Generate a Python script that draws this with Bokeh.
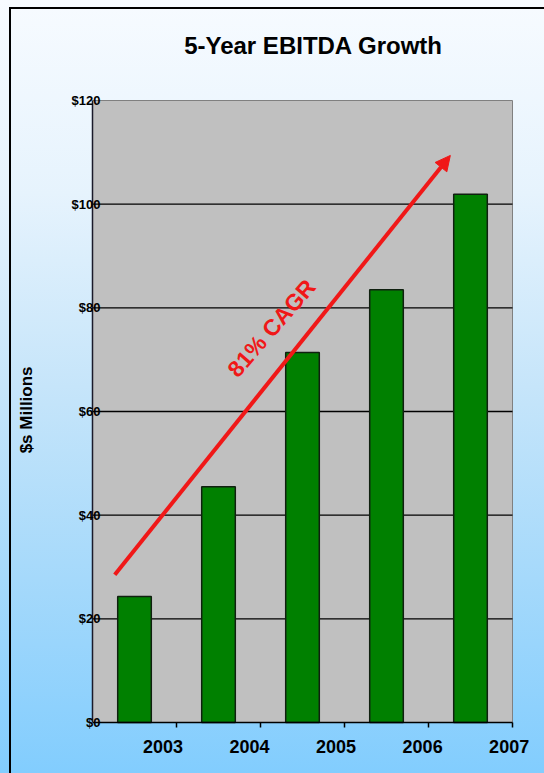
from bokeh.plotting import figure
from bokeh.models import Range1d, FixedTicker, LinearAxis, Arrow, NormalHead
from bokeh.core.properties import value
from bokeh.embed import file_html
from bokeh.resources import INLINE

# ---- data ----
years = ["2003", "2004", "2005", "2006", "2007"]
ebitda = [24.3, 45.5, 71.4, 83.5, 101.9]
y_ticks = [0, 20, 40, 60, 80, 100, 120]
y_tick_labels = ["$0", "$20", "$40", "$60", "$80", "$100", "$120"]
cagr_text = "81% CAGR"
title_text = "5-Year EBITDA Growth"
y_label = "$s Millions"

FONT = "Liberation Sans"
RED = "#F01818"

n = len(years)
xs = [i + 0.5 for i in range(n)]
y_max = y_ticks[-1]

# ---- layout (pixels) ----
W, H = 544, 773
LEFT, RIGHT, TOP, BOTTOM = 92, 4, 18, 10        # frame borders
AREA_LEFT, AREA_RIGHT = 92, 512                  # pixel columns of the plot area
AREA_TOP, AREA_BOTTOM = 100, 722                 # pixel rows of $120 and $0
ppu = (AREA_BOTTOM - AREA_TOP) / y_max           # pixels per $1M
x_ppu = (AREA_RIGHT - AREA_LEFT) / n             # pixels per category
y_hi = (AREA_BOTTOM - TOP) / ppu
y_lo = -((H - BOTTOM) - AREA_BOTTOM) / ppu
x_hi = (W - RIGHT - LEFT) / x_ppu

p = figure(width=W, height=H, output_backend="svg", toolbar_location=None,
           x_range=Range1d(0, x_hi), y_range=Range1d(y_lo, y_hi),
           min_border_left=LEFT, min_border_right=RIGHT, min_border_top=TOP,
           min_border_bottom=BOTTOM, x_axis_location=None, y_axis_location=None)

p.border_fill_alpha = 0
p.background_fill_alpha = 0
p.outline_line_color = None
p.styles = {
    "background": ("linear-gradient(#000000, #000000) 9px 7px / 2px calc(100% - 7px) no-repeat, "
                   "linear-gradient(#000000, #000000) 9px 7px / calc(100% - 9px) 2px no-repeat, "
                   "linear-gradient(to bottom, #F7FBFF 0%, #E6F3FD 25%, #C6E5FA 50%, #A5D9FB 75%, #82CDFE 100%)"),
}

# gray plot area
p.quad(left=[0], right=[n], bottom=[0], top=[y_max], fill_color="#C0C0C0",
       line_color="#808080", line_width=1, level="image")

# horizontal grid lines inside the plot area
grid_y = y_ticks[1:-1]
p.segment(x0=[0] * len(grid_y), y0=grid_y, x1=[n] * len(grid_y), y1=grid_y,
          line_color="#000000", line_width=1.3)
p.xgrid.grid_line_color = None
p.ygrid.grid_line_color = None

# title
p.text(x=[n / 2], y=[y_max], x_offset=11, y_offset=-55.5, text=[title_text],
       text_align="center", text_baseline="middle",
       text_font=value(FONT), text_font_size="24px", text_font_style="bold",
       text_color="#000000")

# y axis
yax = LinearAxis(ticker=FixedTicker(ticks=y_ticks), bounds=(0, y_max),
                 major_label_overrides={t: l for t, l in zip(y_ticks, y_tick_labels)})
yax.axis_line_color = "#1A1A2A"
yax.axis_line_width = 1.5
yax.major_tick_out = 0
yax.major_tick_in = 0
yax.minor_tick_out = 0
yax.minor_tick_in = 0
yax.major_label_standoff = -8
yax.major_label_text_font = FONT
yax.major_label_text_font_size = "13px"
yax.major_label_text_font_style = "bold"
yax.major_label_text_color = "#000000"
# trailing no-break spaces push the visible label down to the plot area's centre
yax.axis_label = y_label + "\u00a0" * 8
yax.axis_label_text_font = FONT
yax.axis_label_text_font_size = "17px"
yax.axis_label_text_font_style = "bold"
yax.axis_label_text_color = "#000000"
yax.axis_label_standoff = 33
p.add_layout(yax, "left")

# bars
p.vbar(x=xs, top=ebitda, width=0.4, bottom=0,
       fill_color="#008000", line_color="#102010", line_width=1.5)

# category axis (baseline, boundary ticks, Excel-style year labels)
p.segment(x0=[0], y0=[0], x1=[n], y1=[0], line_color="#000000", line_width=1.5)
bounds_x = list(range(1, n + 1))
p.segment(x0=bounds_x, y0=[0] * n, x1=bounds_x, y1=[-5 / ppu] * n,
          line_color="#000000", line_width=1.5)
label_pos = [0.84, 1.87, 2.9, 3.93, 4.96]
p.text(x=label_pos, y=[0] * n, y_offset=24, text=years,
       text_align="center", text_baseline="middle",
       text_font=value(FONT), text_font_size="18px", text_font_style="bold",
       text_color="#000000")

# growth arrow
arrow = Arrow(end=NormalHead(size=15, fill_color=RED, line_color=RED, line_width=1),
              x_start=xs[0] - 0.235, y_start=ebitda[0] + 4.2,
              x_end=xs[-1] - 0.24, y_end=ebitda[-1] + 7.5,
              line_color=RED, line_width=4)
p.add_layout(arrow)

p.text(x=[2.13], y=[76.1], text=[cagr_text], angle=0.855,
       text_align="center", text_baseline="middle",
       text_font=value(FONT), text_font_size="23px", text_font_style="bold",
       text_color=RED)

open("out.html", "w").write(file_html(p, INLINE))
